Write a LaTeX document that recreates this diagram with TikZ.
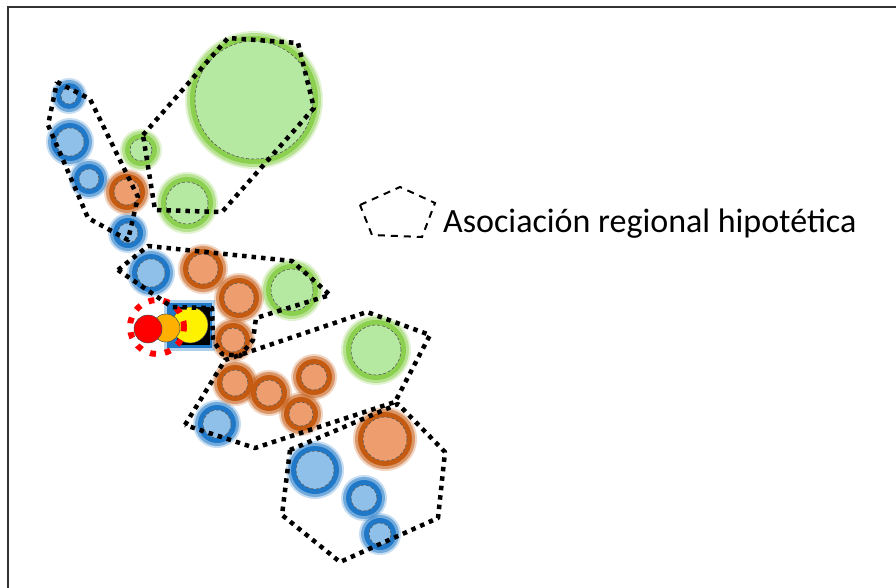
\documentclass[tikz,border=0pt]{standalone}
\usepackage{fontspec}
\setmainfont{Carlito}

\definecolor{blring}{HTML}{1F78C8}
\definecolor{blfill}{HTML}{8EC0EA}
\definecolor{grring}{HTML}{8CD050}
\definecolor{grfill}{HTML}{B5E8A0}
\definecolor{orring}{HTML}{C55A11}
\definecolor{orfill}{HTML}{EE9E6E}
\definecolor{amber}{HTML}{FFB000}

% one blurred site: x, y, outer radius, colour prefix
\newcommand{\site}[4]{%
  \fill[#4ring, opacity=0.25] (#1,#2) circle[radius={(#3+2)*1pt}];
  \fill[#4ring, opacity=0.5] (#1,#2) circle[radius={(#3)*1pt}];
  \fill[#4ring] (#1,#2) circle[radius={(#3-3)*1pt}];
  \fill[#4fill] (#1,#2) circle[radius={(#3-8)*1pt}];
  \draw[gray!70!black, line width=0.6pt, dash pattern=on 3pt off 2pt] (#1,#2) circle[radius={(#3-8)*1pt}];
}

\begin{document}
\begin{tikzpicture}[x=1pt, y=-1pt,
    region/.style={line width=4.5pt, dash pattern=on 4.5pt off 5pt, line join=round},
    legdash/.style={line width=2pt, dash pattern=on 7pt off 6pt},
    halo/.style={draw=gray!60!black, line width=0.5pt}]
        \useasboundingbox (0,0) rectangle (896,588);

        % Frame
        \draw[line width=2pt, black!80] (8,588) -- (8,7) -- (896,7);

        % Sites
        \foreach \x/\y/\r in {69/96/16, 70/142/22, 89/179/18, 128/233/18, 151/273/22, 217/424/22, 315/470/27, 364/498/21, 380/534/19}
            \site{\x}{\y}{\r}{bl};
        \foreach \x/\y/\r in {254/100/67, 141/150/19, 187/203/29, 292/290/29, 376/350/33}
            \site{\x}{\y}{\r}{gr};
        \foreach \x/\y/\r in {127/192/21, 203/269/23, 239/298/23, 233/340/20, 235/383/21, 269/393/21, 314/377/21, 301/414/20, 385/439/30}
            \site{\x}{\y}{\r}{or};

        % Central site
        \fill[blring, opacity=0.35] (164,300) rectangle (215,351);
        \fill[blring] (167,303) rectangle (212,348);
        \fill[black] (177,307) rectangle (210,345);
        \fill[yellow, halo] (190,325) circle[radius=18pt];
        \fill[amber, halo] (166,328) circle[radius=14pt];
        \fill[red, halo] (148,329) circle[radius=14pt];
        \draw[red, line width=6pt, dash pattern=on 6pt off 9pt] (157,327) circle[radius=27pt];

        % Regional associations
        \draw[region] (57,82) -- (90,99) -- (138,197) -- (128,240) -- (88,218) -- (48,125) -- cycle;
        \draw[region] (143,135) -- (228,38) -- (298,43) -- (314,108) -- (222,212) -- (155,210) -- cycle;
        \draw[region] (118,270) -- (148,246) -- (292,261) -- (330,295) -- (256,318) -- (253,340) -- (240,356) -- (222,354) -- (213,340) -- (212,308) -- (172,307) -- cycle;
        \draw[region] (185,425) -- (225,360) -- (367,312) -- (430,335) -- (395,402) -- (255,448) -- cycle;
        \draw[region] (290,450) -- (398,404) -- (445,452) -- (438,518) -- (340,562) -- (282,515) -- cycle;

        % Legend
        \draw[legdash] (360,205) -- (400,187) -- (435,203) -- (422,237) -- (372,235) -- cycle;
        \node[anchor=base west, inner sep=0pt, font=\fontsize{34}{40}\selectfont] (legend) at (443,232) {Asociación regional hipotética};
\end{tikzpicture}
\end{document}
